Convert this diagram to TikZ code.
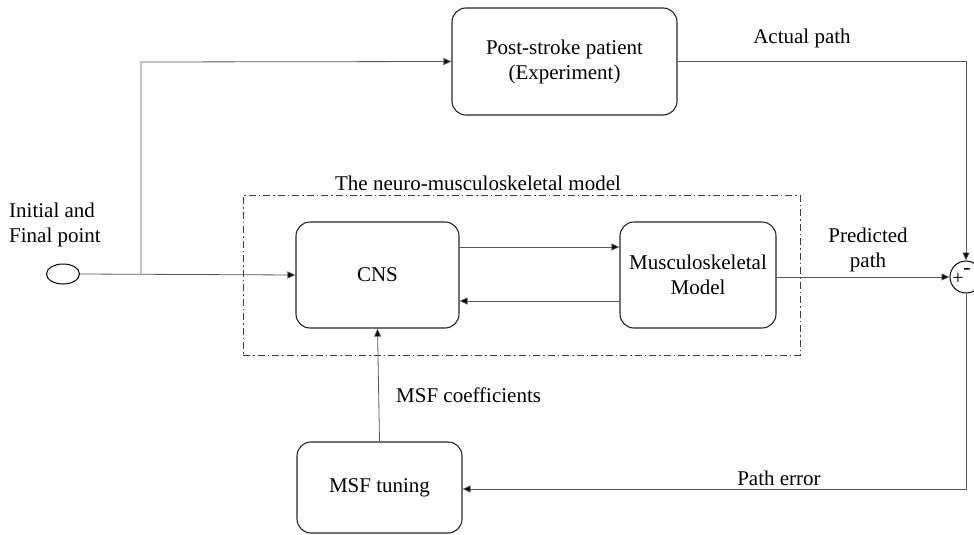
\documentclass[tikz,border=0pt]{standalone}
\usepackage{fontspec}
\setmainfont{Liberation Serif}
\usetikzlibrary{arrows.meta,shapes.geometric}
\begin{document}
\begin{tikzpicture}[x=1pt,y=-1pt,
  blk/.style={draw=black!85,line width=1.1pt,rounded corners=14pt,align=center,inner sep=0pt},
  con/.style={draw=black!65,line width=0.8pt},
  arr/.style={con,-{Triangle[length=8pt,width=7pt,fill=black]}},
  lbl/.style={font=\fontsize{21}{25}\selectfont,align=center,inner sep=0pt},
  every node/.style={font=\fontsize{21}{25}\selectfont}]
\useasboundingbox (0,0) rectangle (974,535);
% model frame
\node[draw=black!75,line width=0.9pt,dash pattern=on 7pt off 3pt on 1.5pt off 3pt,minimum width=557pt,minimum height=160pt,inner sep=0pt] (frame) at (521.5,275) {};
\node[lbl,anchor=base] (framelbl) at (478,190) {The neuro-musculoskeletal model};
% blocks
\node[blk,minimum width=225pt,minimum height=107pt] (post) at (564.5,61.5) {Post-stroke patient\\(Experiment)};
\node[blk,minimum width=163pt,minimum height=106pt] (cns) at (377.5,275) {CNS};
\node[blk,minimum width=156pt,minimum height=106pt] (musc) at (698,275) {Musculoskeletal\\Model};
\node[blk,minimum width=165pt,minimum height=91pt] (msf) at (379.5,487.5) {MSF tuning};
% input ellipse
\node[ellipse,draw=black,line width=1pt,minimum width=33pt,minimum height=20pt,inner sep=0pt] (start) at (63,274) {};
\node[lbl,align=left,anchor=north west] (startlbl) at (9,203) {Initial and\\Final point};
% summing junction
\node[circle,draw=black,line width=1pt,minimum size=32pt,inner sep=0pt] (sum) at (966,277) {};
\node[inner sep=0pt,font=\fontsize{20}{20}\selectfont] (plus) at (958,279) {+};
\node[inner sep=0pt,font=\fontsize{22}{22}\selectfont,text=black] (minus) at (967,271) {-};
% coordinates
\coordinate (br) at (141,274);
% connectors
\draw[arr] (start.east) -- (cns.west);
\draw[arr] (br) -- (141,62) -- (post.west);
\draw[arr] ([yshift=28pt]cns.east) -- ([yshift=28pt]musc.west);
\draw[arr] ([yshift=-26pt]musc.west) -- ([yshift=-26pt]cns.east);
\draw[arr] ([yshift=-2pt]musc.east) -- (sum.west);
\draw[arr] (post.east) -| (sum.north);
\draw[arr] (sum.south) |- (msf.east |- 0,489);
\draw[arr] (msf.north) -- (cns.south);
% labels
\node[lbl] (actual) at (802,38) {Actual path};
\node[lbl] (pred) at (868,250) {Predicted\\path};
\node[lbl,anchor=west] (coef) at (396,395) {MSF coefficients};
\node[lbl] (perr) at (779,478) {Path error};
\end{tikzpicture}
\end{document}
